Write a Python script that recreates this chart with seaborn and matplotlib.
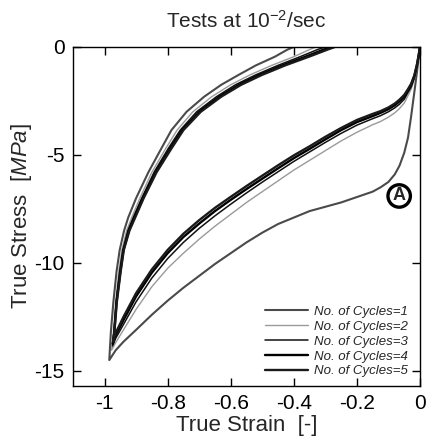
import numpy as np
import pandas as pd
import matplotlib
matplotlib.use("Agg")
import matplotlib.pyplot as plt
import seaborn as sns
from matplotlib.lines import Line2D

sns.set_theme(style="ticks")
plt.rcParams['font.family'] = ['Liberation Sans', 'DejaVu Sans']
plt.rcParams['mathtext.fontset'] = 'custom'
plt.rcParams['mathtext.rm'] = 'Liberation Sans'
plt.rcParams['mathtext.it'] = 'Liberation Sans:italic'

# ---------------- data ----------------
# loading branch strain grid (shared by all cycles)
load_strain = [0.0, -0.005, -0.01, -0.018, -0.028, -0.038, -0.05, -0.065, -0.08,
               -0.1, -0.125, -0.15, -0.2, -0.25, -0.3, -0.35, -0.4, -0.45, -0.5,
               -0.55, -0.6, -0.65, -0.7, -0.75, -0.8, -0.85, -0.9, -0.94, -0.965]
c1_load = [0.0, -0.6, -1.2, -2.1, -3.2, -4.2, -4.9, -5.5, -5.9,
           -6.25, -6.5, -6.7, -6.95, -7.2, -7.4, -7.6, -7.9, -8.2, -8.6,
           -9.05, -9.55, -10.05, -10.6, -11.15, -11.75, -12.4, -13.1, -13.65, -14.05]
c2_load = [0.0, -0.5, -0.95, -1.5, -1.95, -2.25, -2.6, -2.85, -3.05,
           -3.25, -3.45, -3.6, -3.95, -4.35, -4.8, -5.25, -5.7, -6.2, -6.7,
           -7.2, -7.75, -8.3, -8.9, -9.55, -10.25, -11.1, -12.15, -13.1, -13.7]
c3_load = [0.0, -0.48, -0.9, -1.42, -1.85, -2.1, -2.42, -2.65, -2.82,
           -3.0, -3.18, -3.32, -3.62, -4.0, -4.42, -4.86, -5.3, -5.78, -6.26,
           -6.76, -7.28, -7.82, -8.4, -9.05, -9.8, -10.7, -11.8, -12.85, -13.5]
c4_load = [0.0, -0.46, -0.86, -1.36, -1.75, -2.0, -2.3, -2.52, -2.7,
           -2.88, -3.05, -3.2, -3.48, -3.85, -4.28, -4.72, -5.15, -5.62, -6.1,
           -6.58, -7.08, -7.6, -8.18, -8.8, -9.55, -10.45, -11.55, -12.65, -13.35]
c5_load = [0.0, -0.45, -0.84, -1.32, -1.7, -1.95, -2.22, -2.44, -2.62,
           -2.8, -2.97, -3.1, -3.38, -3.75, -4.16, -4.6, -5.02, -5.48, -5.96,
           -6.44, -6.94, -7.45, -8.02, -8.65, -9.4, -10.3, -11.4, -12.5, -13.25]
c1_min = (-0.985, -14.5)
c2_min = (-0.978, -14.05)
c3_min = (-0.975, -13.85)
c4_min = (-0.974, -13.75)
c5_min = (-0.973, -13.65)

# unloading branch stress grid (shared)
unload_stress = [-13.2, -11.8, -10.4, -9.4, -8.5, -7.9, -7.0, -5.8, -4.7, -3.85,
                 -3.0, -2.3, -1.75, -1.3, -0.85, -0.45, -0.12, 0.0]
c1_unload = [-0.98, -0.972, -0.962, -0.952, -0.938, -0.925, -0.9, -0.861, -0.82, -0.788,
             -0.74, -0.684, -0.63, -0.576, -0.52, -0.46, -0.42, -0.40]
c2_unload = [-0.972, -0.965, -0.955, -0.945, -0.93, -0.914, -0.888, -0.85, -0.806, -0.77,
             -0.72, -0.66, -0.6, -0.54, -0.47, -0.4, -0.35, -0.33]
c3_unload = [-0.97, -0.963, -0.952, -0.942, -0.926, -0.909, -0.882, -0.843, -0.798, -0.76,
             -0.708, -0.645, -0.585, -0.522, -0.45, -0.38, -0.325, -0.30]
c4_unload = [-0.969, -0.962, -0.95, -0.94, -0.923, -0.906, -0.879, -0.838, -0.792, -0.754,
             -0.7, -0.636, -0.574, -0.51, -0.436, -0.363, -0.305, -0.28]
c5_unload = [-0.969, -0.961, -0.949, -0.939, -0.921, -0.903, -0.876, -0.835, -0.788, -0.75,
             -0.695, -0.63, -0.567, -0.502, -0.427, -0.352, -0.293, -0.27]

labels = ["No. of Cycles=1", "No. of Cycles=2", "No. of Cycles=3",
          "No. of Cycles=4", "No. of Cycles=5"]

cycles = [
    (c1_load, c1_min, c1_unload),
    (c2_load, c2_min, c2_unload),
    (c3_load, c3_min, c3_unload),
    (c4_load, c4_min, c4_unload),
    (c5_load, c5_min, c5_unload),
]
frames = []
for lab, (ld, mn, ul) in zip(labels, cycles):
    xs = list(load_strain) + [mn[0]] + list(ul)
    ys = list(ld) + [mn[1]] + list(unload_stress)
    frames.append(pd.DataFrame({"strain": xs, "stress": ys, "cycle": lab,
                                "order": np.arange(len(xs))}))
df = pd.concat(frames, ignore_index=True)

colors = ["#4a4a4a", "#9a9a9a", "#111111", "#000000", "#1a1a1a"]
widths = [1.5, 1.0, 1.1, 1.7, 1.7]

# ---------------- figure ----------------
fig = plt.figure(figsize=(4.28, 4.47), dpi=100)
ax = fig.add_axes([0.1706, 0.1365, 0.8107, 0.7584])

for lab, c, w in zip(labels, colors, widths):
    sub = df[df["cycle"] == lab]
    sns.lineplot(data=sub, x="strain", y="stress", sort=False, estimator=None,
                 color=c, linewidth=w, ax=ax, legend=False)

ax.set_xlim(-1.1, 0.0)
ax.set_ylim(-15.7, 0.0)
ax.set_xticks([-1, -0.8, -0.6, -0.4, -0.2, 0])
ax.set_xticklabels(["-1", "-0.8", "-0.6", "-0.4", "-0.2", "0"])
ax.set_yticks([0, -5, -10, -15])
ax.set_yticklabels(["0", "-5", "-10", "-15"])
ax.tick_params(direction="in", length=6, width=1, labelsize=15, pad=6,
               colors="black", top=True, right=True)
for s in ax.spines.values():
    s.set_color("black")
    s.set_linewidth(1.0)

ax.set_xlabel("True Strain  [-]", fontsize=16, labelpad=1)
ax.set_ylabel(r"True Stress  [$\it{MPa}$]", fontsize=16)
ax.yaxis.set_label_coords(-0.112, 0.5)
ax.set_title(r"Tests at 10$^{-2}$/sec", fontsize=15, pad=14)

# circled A marker
ax.text(-0.066, -6.9, "A", fontsize=13, fontweight="bold", ha="center",
        va="center", bbox=dict(boxstyle="circle,pad=0.15", fc="white",
                               ec="black", lw=2.4))

handles = [Line2D([0], [0], color=c, lw=w) for c, w in zip(colors, widths)]
leg = ax.legend(handles, labels, loc="lower right", frameon=False,
                prop={"style": "italic", "size": 9.5}, handlelength=3.2,
                handletextpad=0.5, labelspacing=0.2,
                bbox_to_anchor=(1.0, -0.01))

fig.savefig("out.png", dpi=100)
